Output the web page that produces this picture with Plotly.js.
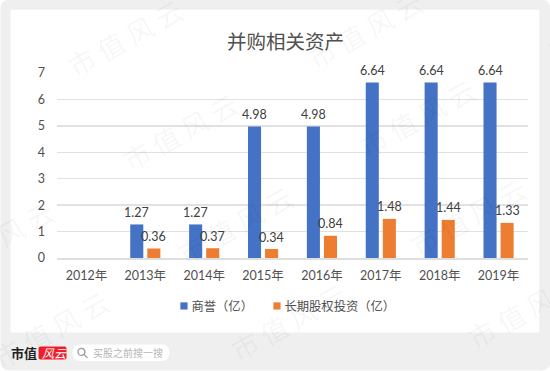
<!DOCTYPE html>
<html><head><meta charset="utf-8">
<script src="https://cdn.plot.ly/plotly-3.0.1.min.js"></script>
<style>html,body{margin:0;padding:0;background:#fff;overflow:hidden}#c{width:550px;height:371px}</style>
</head><body><div id="c"></div>
<script>
const categories = ['2012年','2013年','2014年','2015年','2016年','2017年','2018年','2019年'];
const goodwill = [null,1.27,1.27,4.98,4.98,6.64,6.64,6.64];
const equityInvest = [null,0.36,0.37,0.34,0.84,1.48,1.44,1.33];
const seriesNames = ['商誉（亿）','长期股权投资（亿）'];
const chartTitle = '并购相关资产';
const watermarkText = '市值风云';
const watermarkCentres = [[-115,46],[-60,140],[-5,240],[50,330],[125,38],[180,132],[235,225],[288,322],[365,30],[417,118],[468,217],[525,310],[605,22]];

const W=550,H=371,L=56.5,R=527.7,T=73.3,B=258.5;
const px=x=>(x-L)/(R-L), py=y=>(B-y)/(B-T);
const font='Lato, "Noto Sans CJK SC", sans-serif';
const txt='#505050';
function rr(x0,y0,x1,y1,r){
  return `M${px(x0+r)},${py(y0)}L${px(x1-r)},${py(y0)}Q${px(x1)},${py(y0)} ${px(x1)},${py(y0+r)}L${px(x1)},${py(y1-r)}Q${px(x1)},${py(y1)} ${px(x1-r)},${py(y1)}L${px(x0+r)},${py(y1)}Q${px(x0)},${py(y1)} ${px(x0)},${py(y1-r)}L${px(x0)},${py(y0+r)}Q${px(x0)},${py(y0)} ${px(x0+r)},${py(y0)}Z`;
}
const shape=(path,fill)=>({type:'path',xref:'paper',yref:'paper',path:path,fillcolor:fill,line:{width:0},layer:'below'});
const shapes=[
  shape(rr(0,0,550,371,9),'#efefef'),
  shape(rr(10,10,539,333,1),'#ffffff'),
  shape(rr(38,347,66,360,2),'#ee1f2b'),
  shape(rr(72,345,169,361.5,8),'#ffffff'),
  {type:'circle',xref:'paper',yref:'paper',x0:px(77.5),x1:px(84.5),y0:py(356),y1:py(349),line:{color:'#9a9a9a',width:1.3},fillcolor:'rgba(0,0,0,0)',layer:'below'},
  {type:'line',xref:'paper',yref:'paper',x0:px(83.5),x1:px(87),y0:py(355),y1:py(358.5),line:{color:'#9a9a9a',width:1.3},layer:'below'}
];
const ann=[];
function vlabels(vals,shift){
  vals.forEach((v,i)=>{ if(v===null) return;
    ann.push({x:categories[i],y:v,xref:'x',yref:'y',text:v.toFixed(2),showarrow:false,xshift:shift,yshift:12,yanchor:'middle',xanchor:'center',font:{family:font,size:12.5,color:'#404040'}});
  });
}
vlabels(goodwill,-8.5);
vlabels(equityInvest,8.5);
watermarkCentres.forEach(c=>ann.push({xref:'paper',yref:'paper',x:px(c[0]),y:py(c[1]),text:watermarkText.split('').join(' '),showarrow:false,textangle:-29,xanchor:'center',yanchor:'middle',font:{family:'"Noto Sans CJK SC"',size:27,color:'rgba(0,0,0,0.05)'}}));
const fixed=(x,y,text,size,color,extra)=>Object.assign({xref:'paper',yref:'paper',x:px(x),y:py(y),text:text,showarrow:false,xanchor:'left',yanchor:'middle',font:{family:'"Noto Sans CJK SC"',size:size,color:color}},extra||{});
ann.push(fixed(8,353.5,'<b>市值</b>',13,'#222222'));
ann.push(fixed(39,353.5,'<i>风云</i>',12,'#ffffff'));
ann.push(fixed(91,353.5,'买股之前搜一搜',10,'#b5b5b5'));

const data=[
 {type:'bar',name:seriesNames[0],x:categories,y:goodwill,marker:{color:'#4472c4'},hoverinfo:'x+y'},
 {type:'bar',name:seriesNames[1],x:categories,y:equityInvest,marker:{color:'#ed7d31'},hoverinfo:'x+y'}
];
const layout={
 width:W,height:H,autosize:false,
 margin:{l:L,r:W-R,t:T,b:H-B,pad:0},
 paper_bgcolor:'#ffffff',plot_bgcolor:'rgba(0,0,0,0)',
 title:{text:chartTitle,x:285.5/W,xanchor:'center',xref:'container',y:1-42/H,yref:'container',yanchor:'middle',font:{family:'"Noto Sans CJK SC"',size:19.5,color:'#505050'}},
 barmode:'group',bargap:0.42,bargroupgap:0.235,
 font:{family:font,size:12.5,color:txt},
 xaxis:{type:'category',categoryorder:'array',categoryarray:categories,showgrid:false,zeroline:false,showline:true,linecolor:'#dedede',linewidth:1.8,ticks:'',ticklabelstandoff:5,tickfont:{family:font,size:12.5,color:txt},fixedrange:true,automargin:false},
 yaxis:{range:[0,7],tickvals:[0,1,2,3,4,5,6,7],ticktext:['0','1','2','3','4','5','6','7'],showgrid:true,gridcolor:'#e1e1e1',gridwidth:1.5,zeroline:false,showline:false,ticks:'',ticklabelstandoff:11,tickfont:{family:font,size:12.5,color:txt},fixedrange:true,automargin:false},
 showlegend:true,
 legend:{orientation:'h',x:px(151),xanchor:'left',y:py(292),yanchor:'top',traceorder:'normal',itemwidth:30,entrywidth:48,entrywidthmode:'pixels',itemclick:false,itemdoubleclick:false,bgcolor:'rgba(0,0,0,0)',font:{family:'"Noto Sans CJK SC"',size:12.3,color:txt}},
 shapes:shapes,annotations:ann
};
Plotly.newPlot('c',data,layout,{displayModeBar:false,staticPlot:true}).then(()=>{
  document.querySelectorAll('#c .legendpoints path').forEach(p=>{p.setAttribute('transform','translate(32.5,0) scale(0.6)');});
  document.querySelectorAll('#c .legend .scrollbox, #c .legend').forEach(n=>{n.removeAttribute('clip-path');n.style.clipPath='none';});
});
</script></body></html>
